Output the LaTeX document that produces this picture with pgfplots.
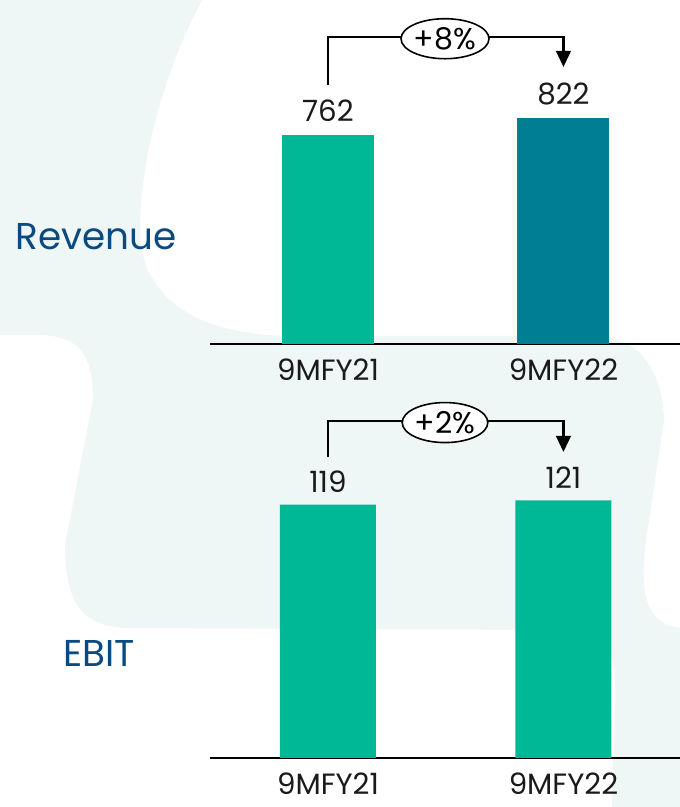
\documentclass[border=0pt]{standalone}
\usepackage{fontspec}
\setmainfont{Poppins}
\usepackage{pgfplots}
\pgfplotsset{compat=1.18}
\usetikzlibrary{arrows.meta,shapes.geometric}
\definecolor{mint}{HTML}{EEF7F5}
\definecolor{barA}{HTML}{00B796}
\definecolor{barB}{HTML}{007E92}
\definecolor{navy}{HTML}{0B4A80}
\definecolor{txt}{HTML}{1A1A1A}
\pgfplotsset{/pgf/number format/assume math mode=true}
\begin{document}
\begin{tikzpicture}[x=0.75pt,y=0.75pt]
\fill[white] (0,0) rectangle (680,807);
\begin{scope}[shift={(0,807)},yscale=-1]
\fill[mint] (0,0) -- (202,0)
  .. controls (170,60) and (140,150) .. (140,230)
  .. controls (140,300) and (200,335) .. (290,336)
  -- (600,336)
  .. controls (640,340) and (662,370) .. (664,420)
  -- (646,540)
  .. controls (638,600) and (650,625) .. (680,628)
  -- (680,807) -- (612,807)
  .. controls (612,720) and (625,660) .. (600,630)
  -- (130,628)
  .. controls (80,628) and (65,600) .. (65,545)
  -- (93,400)
  .. controls (93,355) and (80,336) .. (40,335)
  -- (0,335) -- cycle;
\end{scope}
% Revenue
\begin{axis}[
  at={(157.5pt,347.25pt)}, anchor=south west,
  width=352.5pt, height=205.9pt, scale only axis,
  xmin=-0.501, xmax=1.495, ymin=0, ymax=1000,
  hide y axis, axis x line*=bottom,
  x axis line style={-, line width=1.5pt, black},
  xtick={0,1}, xticklabels={9MFY21,9MFY22},
  major tick length=0pt,
  xticklabel style={anchor=north, inner sep=0pt, yshift=-11pt, font=\fontsize{22}{26}\selectfont, text=txt},
  ybar, bar width=69pt, bar shift=0pt,
  nodes near coords,
  nodes near coords style={anchor=south, inner sep=0pt, yshift=9.5pt, font=\fontsize{22}{26}\selectfont, text=txt},
  clip=false,
]
\addplot[fill=barA, draw=none] coordinates {(0,762)};
\addplot[fill=barB, draw=none] coordinates {(1,822)};
\draw[line width=1.6pt, -{Triangle[width=11pt,length=12pt]}] (axis cs:0,943) |- (axis cs:1,1118) -- (axis cs:1,1009);
\node[draw, ellipse, fill=white, line width=1.2pt, minimum width=63pt, minimum height=30pt, inner sep=0pt, font=\fontsize{22.5}{27}\selectfont, text=black] at (axis cs:0.497,1112) {+8\%};
\end{axis}
% EBIT
\begin{axis}[
  at={(157.5pt,36.75pt)}, anchor=south west,
  width=352.5pt, height=239.6pt, scale only axis,
  xmin=-0.501, xmax=1.495, ymin=0, ymax=150,
  hide y axis, axis x line*=bottom,
  x axis line style={-, line width=1.5pt, black},
  xtick={0,1}, xticklabels={9MFY21,9MFY22},
  major tick length=0pt,
  xticklabel style={anchor=north, inner sep=0pt, yshift=-11pt, font=\fontsize{22}{26}\selectfont, text=txt},
  ybar, bar width=72pt, bar shift=0pt,
  nodes near coords,
  nodes near coords style={anchor=south, inner sep=0pt, yshift=9pt, font=\fontsize{22}{26}\selectfont, text=txt},
  clip=false,
]
\addplot[fill=barA, draw=none] coordinates {(0,119) (1,121)};
\draw[line width=1.6pt, -{Triangle[width=11pt,length=12pt]}] (axis cs:0,141.3) |- (axis cs:1,158.2) -- (axis cs:1,143.7);
\node[draw, ellipse, fill=white, line width=1.2pt, minimum width=63pt, minimum height=30pt, inner sep=0pt, font=\fontsize{22.5}{27}\selectfont, text=black] at (axis cs:0.497,157.5) {+2\%};
\end{axis}
\node[font=\fontsize{28}{32}\selectfont, text=navy] at (96,570) {Revenue};
\node[font=\fontsize{28}{32}\selectfont, text=navy] at (99,154) {EBIT};
\pgfresetboundingbox
\path[use as bounding box] (0,0) rectangle (680,807);
\end{tikzpicture}
\end{document}
